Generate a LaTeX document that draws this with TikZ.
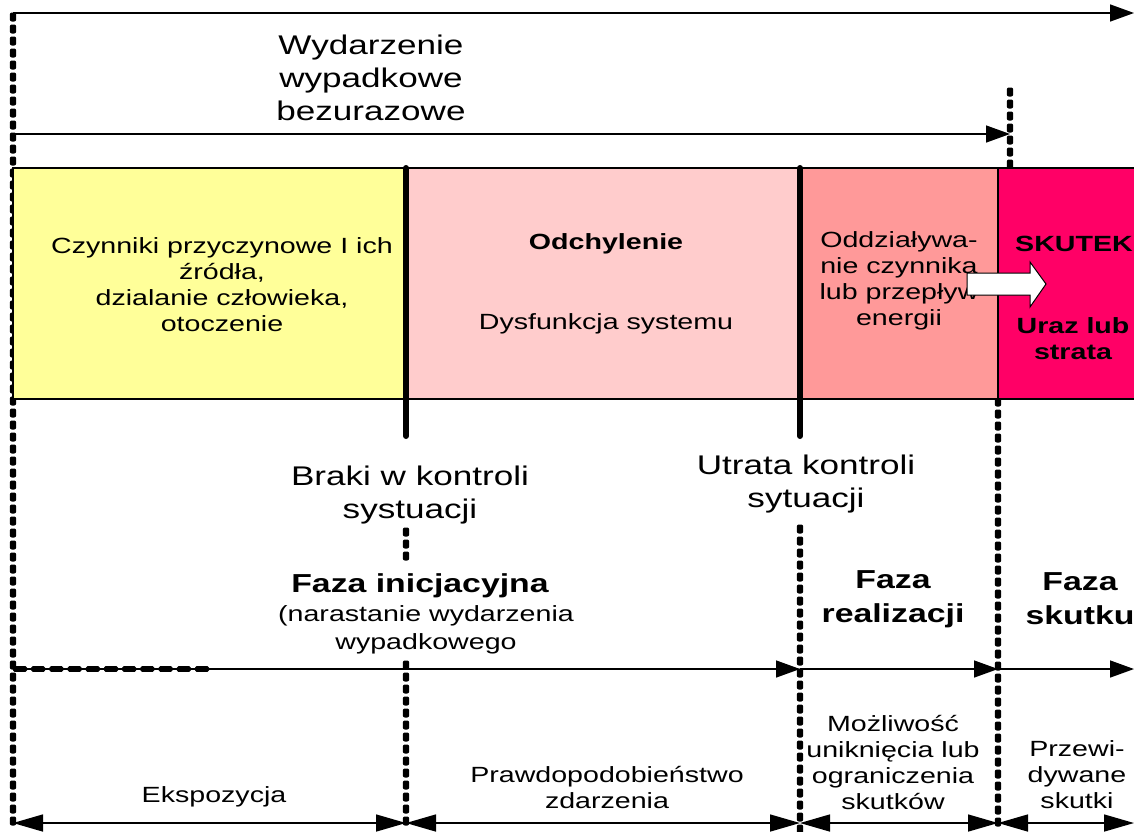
\documentclass[tikz,border=0pt]{standalone}
\usepackage{fontspec}
\setmainfont{Liberation Sans}[FakeStretch=1.3]
\usetikzlibrary{arrows.meta,decorations.markings}
\definecolor{cyellow}{HTML}{FFFF99}
\definecolor{cpink}{HTML}{FFCCCC}
\definecolor{csalmon}{HTML}{FF9999}
\definecolor{chot}{HTML}{FF0066}
\tikzset{
  thinarrow/.style={line width=1.5pt,-{Triangle[length=24pt,width=17pt]}},
  twoarrow/.style={line width=1.5pt,{Triangle[length=30pt,width=17pt]}-{Triangle[length=30pt,width=17pt]}},
  dotline/.style={decorate,decoration={markings,
     mark=between positions 0 and 1 step 12pt with {\fill[rounded corners=2pt] (-4.5pt,-3.2pt) rectangle (4.5pt,3.2pt);}}},
  dashline/.style={decorate,decoration={markings,
     mark=between positions 0 and 1 step 18.2pt with {\fill[rounded corners=1.5pt] (0pt,-2.8pt) rectangle (14pt,2.8pt);}}},
  bar/.style={line width=6pt,line cap=round},
  box/.style={draw,line width=1.2pt},
  big/.style={font=\fontsize{27}{33}\selectfont,align=center,inner sep=0pt},
  bigb/.style={font=\fontsize{26}{34}\selectfont\bfseries,align=center,inner sep=0pt},
  small/.style={font=\fontsize{22}{26}\selectfont,align=center,inner sep=0pt},
  smallb/.style={font=\fontsize{22}{26}\selectfont\bfseries,align=center,inner sep=0pt},
}
\begin{document}
\begin{tikzpicture}[x=1pt,y=-1pt]
\useasboundingbox (0,0) rectangle (1134,831);
% key coordinates
\coordinate (t0) at (13,13);   \coordinate (t1) at (1134,13);
\coordinate (w0) at (13,134);  \coordinate (w1) at (1010,134);
\coordinate (wd0) at (1010,92); \coordinate (wd1) at (1010,168);
\coordinate (l0) at (13,17);   \coordinate (l1) at (13,831);
\coordinate (d0) at (998,402); \coordinate (d1) at (998,831);
\coordinate (b0) at (406,532); \coordinate (bm1) at (406,566);
\coordinate (bm2) at (406,665); \coordinate (b1) at (406,831);
\coordinate (c0) at (800,529); \coordinate (c1) at (800,831);
\coordinate (m0) at (13,669); \coordinate (m1) at (800,669);
\coordinate (m2) at (998,669); \coordinate (m3) at (1134,669);
\coordinate (md) at (195.5,669);
\coordinate (e0) at (13,823); \coordinate (e1) at (406,823);
\coordinate (e2) at (800,823); \coordinate (e3) at (998,823);
\coordinate (e4) at (1134,823);
% dotted verticals
\draw[dotline] (l0) -- (l1);
\draw[dotline] (wd0) -- (wd1);
\draw[dotline] (d0) -- (d1);
\draw[dotline] (b0) -- (bm1);
\draw[dotline] (bm2) -- (b1);
\draw[dotline] (c0) -- (c1);
% top arrows
\draw[thinarrow] (t0) -- (t1);
\draw[thinarrow] (w0) -- (w1);
\node[big] (wyd) at (371,78) {Wydarzenie\\wypadkowe\\bezurazowe};
% boxes
\node[box,fill=cyellow,minimum width=393pt,minimum height=231pt,inner sep=0pt] (by) at (209.5,283.5) {};
\node[box,fill=cpink,minimum width=394pt,minimum height=231pt,inner sep=0pt] (bp) at (603,283.5) {};
\node[box,fill=csalmon,minimum width=198pt,minimum height=231pt,inner sep=0pt] (bs) at (899,283.5) {};
\node[box,fill=chot,minimum width=150pt,minimum height=231pt,inner sep=0pt,anchor=west] (bh) at (998,283.5) {};
% thick bars
\coordinate (x0) at (406,168); \coordinate (x1) at (406,436);
\coordinate (y0) at (800,168); \coordinate (y1) at (800,436);
\draw[bar] (x0) -- (x1);
\draw[bar] (y0) -- (y1);
% box texts
\node[small] (ty) at (222,285) {Czynniki przyczynowe I ich\\źródła,\\dzialanie człowieka,\\otoczenie};
\node[smallb] (tp1) at (606,244) {Odchylenie};
\node[small] (tp2) at (606,324) {Dysfunkcja systemu};
\node[small] (ts) at (899,281) {Oddziaływa-\\nie czynnika\\lub przepływ\\energii};
\node[smallb] (th1) at (1074,244) {SKUTEK};
\node[smallb] (th2) at (1073,339) {Uraz lub\\strata};
% white block arrow
\draw[fill=white,line width=1pt] (967,273) -- (1030,273) -- (1030,262) -- (1046,284) -- (1030,307) -- (1030,295) -- (967,295) -- cycle;
% labels below
\node[big] (braki) at (410,495) {Braki w kontroli\\systuacji};
\node[big] (utrata) at (806,484) {Utrata kontroli\\sytuacji};
\node[bigb] (fi) at (420,586) {Faza inicjacyjna};
\node[small,font=\fontsize{22}{28}\selectfont] (fi2) at (426,630) {(narastanie wydarzenia\\wypadkowego};
\node[bigb] (fr) at (893,599) {Faza\\realizacji};
\node[bigb] (fs) at (1080,599) {Faza\\skutku};
% middle arrows
\draw[thinarrow] (m0) -- (m1);
\draw[dashline] (m0) -- (md);
\draw[thinarrow] (m1) -- (m2);
\draw[thinarrow] (m2) -- (m3);
% bottom texts
\node[small] (eks) at (214,797) {Ekspozycja};
\node[small] (praw) at (607,787) {Prawdopodobieństwo\\zdarzenia};
\node[small] (moz) at (893,762) {Możliwość\\uniknięcia lub\\ograniczenia\\skutków};
\node[small] (prz) at (1077,775) {Przewi-\\dywane\\skutki};
% bottom arrows
\draw[twoarrow] (e0) -- (e1);
\draw[twoarrow] (e1) -- (e2);
\draw[twoarrow] (e2) -- (e3);
\draw[twoarrow] (e3) -- (e4);
\end{tikzpicture}
\end{document}
